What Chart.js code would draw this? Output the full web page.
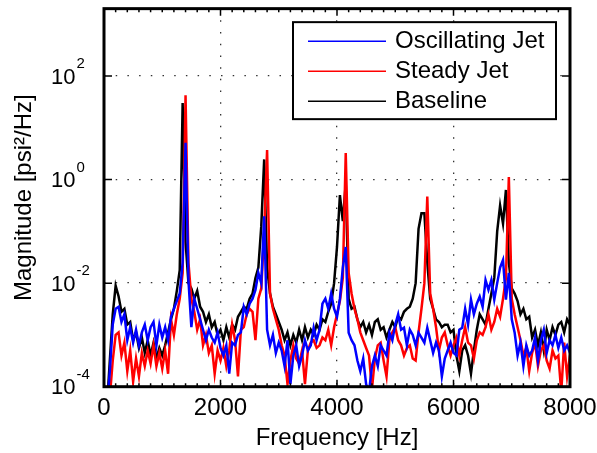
<!DOCTYPE html>
<html>
<head>
<meta charset="utf-8">
<script src="https://cdn.jsdelivr.net/npm/chart.js@4"></script>
<style>
  body { margin: 0; background: #fff; }
  #wrap { width: 597px; height: 453px; }
</style>
</head>
<body>
<div id="wrap"><canvas id="spectrum" width="597" height="453"></canvas></div>
<script>
// frequency grid [Hz]
const freq = [
  0, 50, 100, 150, 200, 250, 300, 350, 400, 450, 500, 550, 600, 650, 700, 750, 800, 850, 900, 950,
  1000, 1050, 1100, 1150, 1200, 1250, 1300, 1350, 1400, 1450, 1500, 1550, 1600, 1650, 1700, 1750, 1800, 1850, 1900, 1950,
  2000, 2050, 2100, 2150, 2200, 2250, 2300, 2350, 2400, 2450, 2500, 2550, 2600, 2650, 2700, 2750, 2800, 2850, 2900, 2950,
  3000, 3050, 3100, 3150, 3200, 3250, 3300, 3350, 3400, 3450, 3500, 3550, 3600, 3650, 3700, 3750, 3800, 3850, 3900, 3950,
  4000, 4050, 4100, 4150, 4200, 4250, 4300, 4350, 4400, 4450, 4500, 4550, 4600, 4650, 4700, 4750, 4800, 4850, 4900, 4950,
  5000, 5050, 5100, 5150, 5200, 5250, 5300, 5350, 5400, 5450, 5500, 5550, 5600, 5650, 5700, 5750, 5800, 5850, 5900, 5950,
  6000, 6050, 6100, 6150, 6200, 6250, 6300, 6350, 6400, 6450, 6500, 6550, 6600, 6650, 6700, 6750, 6800, 6850, 6900, 6950,
  7000, 7050, 7100, 7150, 7200, 7250, 7300, 7350, 7400, 7450, 7500, 7550, 7600, 7650, 7700, 7750, 7800, 7850, 7900, 7950,
  8000
]

// PSD values [psi^2/Hz], one per frequency
const oscillatingJet = [
  2.5e-5, 4e-5, 2e-4, 1.58e-3, 3.2e-3, 3.5e-3, 1.78e-3, 2.5e-3, 7.9e-4, 1.41e-3,
  7.1e-4, 1.26e-3, 6.3e-4, 1.12e-3, 1.58e-3, 7.9e-4, 1.41e-3, 1.78e-3, 6.3e-4, 1.58e-3,
  8.9e-4, 1.41e-3, 7.9e-4, 2.24e-3, 3.2e-3, 4.5e-3, 6.3e-3, 2.5e-2, 5.13, 1.12e-2,
  1.41e-3, 5e-3, 3.2e-3, 2e-3, 1.26e-3, 7.9e-4, 1.26e-3, 8.9e-4, 7.1e-4, 1.12e-3,
  5.6e-4, 4e-4, 6.3e-4, 1.78e-4, 7.1e-4, 6.3e-4, 1e-3, 1.12e-3, 3.5e-3, 2.5e-3,
  4e-3, 5e-3, 7.4e-3, 1.58e-2, 1e-2, 0.195, 1.26e-3, 6.3e-4, 1e-3, 4.5e-4,
  7.1e-4, 5e-4, 2.5e-4, 7.9e-4, 1.12e-4, 4e-4, 6.3e-4, 2.5e-4, 4e-4, 7.9e-4,
  5e-4, 6.3e-4, 1.38e-3, 7.9e-4, 1.26e-3, 4e-3, 5e-3, 3.2e-3, 6.3e-3, 3.2e-3,
  2.24e-3, 5e-3, 2e-2, 5e-2, 1.1e-3, 7.9e-4, 6.3e-4, 3.2e-4, 2e-4, 3.5e-4,
  1.12e-4, 7.9e-5, 2.5e-4, 4e-4, 2.5e-4, 6.3e-4, 5e-4, 4e-4, 1.1e-3, 7.9e-4,
  1.58e-3, 2.5e-3, 1.26e-3, 1.38e-3, 6.3e-4, 1.26e-3, 1e-3, 6.3e-4, 1.1e-3, 8.9e-4,
  7.1e-4, 1.38e-3, 7.9e-4, 4.5e-4, 7.1e-4, 5e-4, 1.58e-4, 3.5e-4, 5e-4, 7.1e-4,
  4.5e-4, 4e-4, 1.26e-3, 1.38e-3, 3.2e-3, 1.58e-3, 4.8e-3, 2.5e-3, 4e-3, 5.5e-3,
  3.5e-3, 1.15e-2, 7.4e-3, 1.15e-2, 4.8e-3, 1e-2, 2e-2, 2.8e-2, 4.8e-3, 1.58e-2,
  2e-3, 1.1e-3, 4e-4, 7.1e-4, 2.5e-4, 6.3e-4, 4e-4, 5e-4, 8.9e-4, 3.2e-4,
  7.9e-4, 1.26e-3, 4.5e-4, 7.9e-4, 6.3e-4, 1e-3, 5.6e-4, 8.9e-4, 5e-4, 6.3e-4,
  4.5e-4
]
const steadyJet = [
  2.5e-5, 3.2e-5, 6.3e-5, 3.2e-4, 1e-3, 1.12e-3, 4e-4, 7.1e-4, 2e-4, 5e-4,
  1.26e-4, 3.5e-4, 1.58e-4, 4.5e-4, 2.5e-4, 5e-4, 2.8e-4, 6.3e-4, 2.5e-4, 4.5e-4,
  2.24e-4, 5e-4, 1.78e-4, 2e-3, 1e-3, 2.5e-3, 5e-3, 1.58e-2, 42.7, 2.5e-2,
  5e-3, 2.8e-3, 1.26e-3, 2e-3, 6.3e-4, 1e-3, 4.5e-4, 6.3e-4, 1.78e-4, 5e-4,
  3.2e-4, 5.6e-4, 2.5e-4, 5e-4, 1.58e-3, 7.9e-4, 1.58e-4, 1.26e-3, 1.41e-3, 2.5e-3,
  3.2e-3, 2.8e-3, 7.9e-4, 5e-3, 7.9e-3, 0.1, 3.72, 6.3e-3, 3.2e-3, 2e-3,
  1.26e-3, 6.3e-4, 4e-4, 1.12e-4, 3.2e-4, 6.3e-4, 3.5e-4, 2.8e-4, 5e-4, 1.12e-4,
  5e-4, 7.1e-4, 7.9e-4, 5.6e-4, 6.3e-4, 8.9e-4, 7.9e-4, 1.26e-3, 6.3e-4, 1.41e-3,
  2.5e-3, 4.5e-3, 1.26e-2, 3.24, 1.58e-2, 6.3e-3, 3.2e-3, 2e-3, 1.12e-3, 7.9e-4,
  5.6e-4, 4e-4, 8.9e-5, 3.5e-4, 6.3e-4, 7.1e-4, 3.2e-4, 1.58e-4, 7.9e-4, 1.12e-3,
  1.41e-3, 7.9e-4, 6.3e-4, 4e-4, 5.6e-4, 6.3e-4, 3.5e-4, 3.2e-4, 1.12e-3, 3.2e-3,
  1e-2, 0.47, 6.3e-3, 3.2e-3, 1.41e-3, 5e-4, 8.9e-4, 1.12e-3, 6.3e-4, 4e-4,
  6.3e-4, 8.9e-4, 4e-4, 7.9e-4, 1.41e-3, 7.1e-4, 6.3e-4, 3.5e-4, 7.9e-4, 1.12e-3,
  1e-3, 1.41e-3, 2.5e-3, 1.26e-3, 1.78e-3, 3.2e-3, 2.24e-3, 5e-3, 1.26e-2, 1.12,
  5e-3, 2.5e-3, 1.41e-3, 7.9e-4, 4e-4, 5.6e-4, 2e-4, 4.5e-4, 7.1e-4, 2.5e-4,
  5e-4, 6.3e-4, 3.2e-4, 2.24e-4, 5e-4, 3.5e-4, 4e-4, 7.9e-5, 7.1e-4, 1.58e-4,
  4e-4
]
const baseline = [
  2.5e-5, 4e-5, 3.2e-4, 2.5e-3, 8.9e-3, 5.6e-3, 2.8e-3, 3.2e-3, 1.58e-3, 1.78e-3,
  7.9e-4, 1.12e-3, 5.6e-4, 8.9e-4, 4.5e-4, 7.9e-4, 4e-4, 7.1e-4, 3.5e-4, 5.6e-4,
  4e-4, 6.3e-4, 1.12e-3, 2e-3, 3.2e-3, 7.1e-3, 1.78e-2, 30.2, 6.3e-2, 1e-2,
  7.9e-3, 5e-3, 7.1e-3, 3.5e-3, 2.8e-3, 1.78e-3, 2.5e-3, 1.41e-3, 1.78e-3, 1e-3,
  1.26e-3, 7.9e-4, 1.41e-3, 8.9e-4, 1.58e-3, 1.26e-3, 2.24e-3, 2.8e-3, 3.5e-3, 3.2e-3,
  5e-3, 6.3e-3, 1.26e-2, 2e-2, 0.126, 2.45, 2e-2, 6.3e-3, 3.5e-3, 2.5e-3,
  1.78e-3, 1.26e-3, 7.9e-4, 1.12e-3, 6.3e-4, 1e-3, 7.1e-4, 1.26e-3, 7.9e-4, 1.41e-3,
  8.9e-4, 1.26e-3, 1e-3, 1.58e-3, 1.26e-3, 2e-3, 1.78e-3, 2.8e-3, 4e-3, 1e-2,
  5e-2, 0.5, 0.158, 0.85, 5e-3, 3.2e-3, 3.5e-3, 2e-3, 1.41e-3, 1.78e-3,
  1.12e-3, 1.58e-3, 1e-3, 1.78e-3, 2e-3, 1.26e-3, 1.41e-3, 8.9e-4, 1.26e-3, 1.78e-3,
  1.41e-3, 2.24e-3, 2e-3, 2.8e-3, 3.2e-3, 3.5e-3, 5e-3, 1e-2, 0.112, 0.224,
  0.224, 2.5e-2, 5e-3, 3.2e-3, 2e-3, 1.78e-3, 1.41e-3, 1.58e-3, 1.58e-3, 1.12e-3,
  1.26e-3, 4e-4, 2e-4, 5e-4, 6.3e-4, 4e-4, 1.78e-4, 5e-4, 1.26e-3, 2.5e-3,
  2e-3, 1.58e-3, 3.2e-3, 6.3e-3, 1.26e-2, 0.1, 0.316, 0.141, 0.63, 2.5e-2,
  7.9e-3, 6.3e-3, 4.5e-3, 2.5e-3, 3.2e-3, 2e-3, 2.24e-3, 8.9e-4, 1.26e-3, 6.3e-4,
  1.12e-3, 5e-4, 1.26e-3, 7.9e-4, 1.41e-3, 1e-3, 1.58e-3, 1.78e-3, 1.12e-3, 2e-3,
  1.58e-3
]

const xTicks = [0, 2000, 4000, 6000, 8000]
const yTicks = [1e-4, 1e-2, 1, 100]
const yTickExp = ['-4', '-2', '0', '2']

const fontFamily = "'Liberation Sans', Arial, Helvetica, sans-serif"
Chart.defaults.font.family = fontFamily
Chart.defaults.color = '#000'

// ticks pointing inward on all four sides + the box, like matlab
const axesFrame = {
  id: 'axesFrame',
  afterDatasetsDraw(chart) {
    const ctx = chart.ctx
    const area = chart.chartArea
    const x = chart.scales.x
    const y = chart.scales.y
    ctx.save()
    ctx.strokeStyle = '#000'
    ctx.lineWidth = 1.5
    ctx.beginPath()
    for (let f = 0; f <= 8000; f += 200) {
      let px = x.getPixelForValue(f)
      let len = xTicks.includes(f) ? 7 : 3.5
      ctx.moveTo(px, area.bottom)
      ctx.lineTo(px, area.bottom - len)
      ctx.moveTo(px, area.top)
      ctx.lineTo(px, area.top + len)
    }
    for (let v of yTicks) {
      let py = y.getPixelForValue(v)
      ctx.moveTo(area.left, py)
      ctx.lineTo(area.left + 8, py)
      ctx.moveTo(area.right, py)
      ctx.lineTo(area.right - 8, py)
    }
    ctx.stroke()
    ctx.lineWidth = 3
    ctx.strokeRect(area.left, area.top, area.right - area.left, area.bottom - area.top)
    ctx.restore()
  },
  afterDraw(chart) {
    const ctx = chart.ctx
    const area = chart.chartArea
    const y = chart.scales.y
    ctx.save()
    ctx.fillStyle = '#000'
    ctx.textAlign = 'left'
    ctx.textBaseline = 'alphabetic'
    // y tick labels as 10^n
    for (let i = 0; i < yTicks.length; i++) {
      let py = y.getPixelForValue(yTicks[i])
      ctx.font = '22px ' + fontFamily
      ctx.fillText('10', 51, py + 7.5)
      let w = ctx.measureText('10').width
      ctx.font = '15px ' + fontFamily
      ctx.fillText(yTickExp[i], 51 + w + 1, py - 8)
    }
    // legend box
    const left = area.right - 277
    const top = area.top + 13.5
    ctx.fillStyle = '#fff'
    ctx.fillRect(left, top, 263, 97)
    ctx.strokeStyle = '#000'
    ctx.lineWidth = 2
    ctx.strokeRect(left, top, 263, 97)
    ctx.font = '24px ' + fontFamily
    ctx.textBaseline = 'middle'
    chart.data.datasets.forEach((ds, i) => {
      let ly = top + 19 + i * 30
      ctx.strokeStyle = ds.borderColor
      ctx.lineWidth = 1.5
      ctx.beginPath()
      ctx.moveTo(left + 15, ly)
      ctx.lineTo(left + 93, ly)
      ctx.stroke()
      ctx.fillStyle = '#000'
      ctx.fillText(ds.label, left + 102, ly)
    })
    ctx.restore()
  }
}

new Chart(document.getElementById('spectrum'), {
  type: 'line',
  data: {
    labels: freq,
    datasets: [
      { label: 'Oscillating Jet', data: oscillatingJet, borderColor: '#0000ff', borderWidth: 2.5, pointRadius: 0, clip: 0 },
      { label: 'Steady Jet', data: steadyJet, borderColor: '#ff0000', borderWidth: 2.5, pointRadius: 0, clip: 0 },
      { label: 'Baseline', data: baseline, borderColor: '#000000', borderWidth: 2.5, pointRadius: 0, clip: 0 }
    ]
  },
  options: {
    responsive: false,
    animation: false,
    devicePixelRatio: 1,
    layout: { padding: { left: 0, right: 27, top: 8.65, bottom: 0 } },
    plugins: { legend: { display: false }, tooltip: { enabled: false } },
    scales: {
      x: {
        type: 'linear',
        min: 0,
        max: 8000,
        afterBuildTicks: s => { s.ticks = xTicks.map(v => ({ value: v })) },
        afterFit: s => {
          s.height = 66.3
          s.paddingLeft = 0
          s.paddingRight = 0
        },
        ticks: { font: { size: 24 }, padding: 7, maxRotation: 0, callback: v => String(v) },
        grid: { color: '#333', lineWidth: 1.3, drawTicks: false },
        border: { display: false, dash: [1.5, 10.2] },
        title: { display: true, text: 'Frequency [Hz]', font: { size: 24 }, padding: { top: 0, bottom: 0 } }
      },
      y: {
        type: 'logarithmic',
        min: 1e-4,
        max: 2000,
        afterBuildTicks: s => { s.ticks = yTicks.map(v => ({ value: v })) },
        afterFit: s => { s.width = 104 },
        ticks: { display: false },
        grid: { color: '#333', lineWidth: 1.3, drawTicks: false },
        border: { display: false, dash: [1.5, 10.2] },
        title: { display: true, text: 'Magnitude [psi²/Hz]', font: { size: 24 }, padding: { top: 10, bottom: 0 } }
      }
    }
  },
  plugins: [axesFrame]
})
</script>
</body>
</html>
